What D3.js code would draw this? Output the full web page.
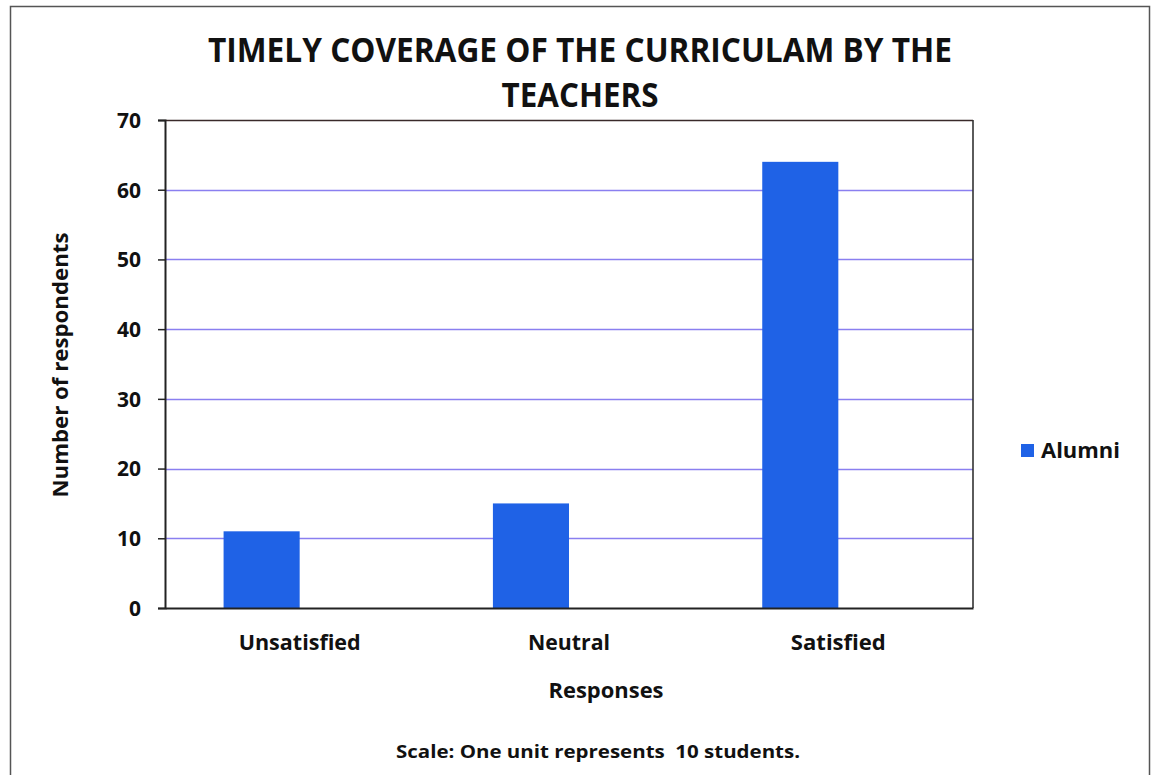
<!DOCTYPE html>
<html>
<head>
<meta charset="utf-8">
<script src="https://cdn.jsdelivr.net/npm/d3@7/dist/d3.min.js"></script>
<style>
  html, body { margin: 0; padding: 0; background: #fff; }
  svg { display: block; }
  text { font-family: "Open Sans", "Noto Sans", sans-serif; font-weight: 700; fill: #111; white-space: pre; }
</style>
</head>
<body>
<svg id="chart" width="1155" height="775"></svg>
<script>
const categories = ["Unsatisfied", "Neutral", "Satisfied"];
const seriesNames = ["Alumni", ""];
const alumniValues = [11, 15, 64];
const yTicks = [0, 10, 20, 30, 40, 50, 60, 70];
const titleLines = ["TIMELY COVERAGE OF THE CURRICULAM BY THE", "TEACHERS"];
const xAxisTitle = "Responses";
const yAxisTitle = "Number of respondents";
const footnote = "Scale: One unit represents  10 students.";

const svg = d3.select("#chart");
const plot = { left: 165, top: 120, right: 973, bottom: 608 };

// outer frame
svg.append("rect").attr("x", 10.5).attr("y", 6.5).attr("width", 1139).attr("height", 780)
  .attr("fill", "none").attr("stroke", "#555").attr("stroke-width", 1.5);

const x0 = d3.scaleBand().domain(categories).range([plot.left, plot.right])
  .paddingInner(0.435).paddingOuter(0.2175);
const x1 = d3.scaleBand().domain(seriesNames).range([0, x0.bandwidth()]);
const y = d3.scaleLinear().domain([0, 70]).range([plot.bottom, plot.top]);

// gridlines
svg.append("g").selectAll("line").data(yTicks.filter(t => t > 0 && t < 70)).join("line")
  .attr("x1", plot.left).attr("x2", plot.right)
  .attr("y1", d => Math.round(y(d)) + 0.5).attr("y2", d => Math.round(y(d)) + 0.5)
  .attr("stroke", "#8a7ff0").attr("stroke-width", 1.3);

// bars
svg.append("g").selectAll("rect").data(categories.map((c, i) => ({ c, v: alumniValues[i] }))).join("rect")
  .attr("x", d => x0(d.c) + x1("Alumni"))
  .attr("width", x1.bandwidth())
  .attr("y", d => y(d.v))
  .attr("height", d => y(0) - y(d.v))
  .attr("fill", "#1f62e6");

// plot border (top and right)
svg.append("line").attr("x1", plot.left).attr("x2", plot.right).attr("y1", plot.top + 0.5).attr("y2", plot.top + 0.5)
  .attr("stroke", "#3a2a2a").attr("stroke-width", 1.6);
svg.append("line").attr("x1", plot.right).attr("x2", plot.right).attr("y1", plot.top).attr("y2", plot.bottom)
  .attr("stroke", "#333").attr("stroke-width", 1.6);

// y axis
const yAxis = svg.append("g").attr("transform", `translate(${plot.left},0)`)
  .call(d3.axisLeft(y).tickValues(yTicks).tickSize(7).tickPadding(17));
yAxis.select(".domain").attr("stroke", "#222").attr("stroke-width", 2);
yAxis.selectAll(".tick line").attr("stroke", "#222").attr("stroke-width", 1.5);
yAxis.selectAll(".tick text").style("font-size", "21px").style("font-family", "Open Sans").style("font-weight", 700)
  .attr("fill", "#111").attr("dy", "0.35em");

// x axis
const xAxis = svg.append("g").attr("transform", `translate(0,${plot.bottom})`)
  .call(d3.axisBottom(x0).tickSize(0).tickPadding(26));
xAxis.select(".domain").attr("stroke", "#222").attr("stroke-width", 2);
xAxis.selectAll(".tick text").style("font-size", "22px").style("font-family", "Open Sans").style("font-weight", 700)
  .attr("fill", "#111")
  .attr("textLength", d => ({ "Unsatisfied": 122, "Neutral": 82, "Satisfied": 95 })[d])
  .attr("lengthAdjust", "spacingAndGlyphs");

// title
const tWidths = [744, 157];
svg.append("g").selectAll("text").data(titleLines).join("text")
  .attr("x", 580).attr("y", (d, i) => 62 + i * 45)
  .attr("text-anchor", "middle").style("font-size", "34px")
  .attr("textLength", (d, i) => tWidths[i]).attr("lengthAdjust", "spacingAndGlyphs")
  .text(d => d);

// axis titles
svg.append("text").attr("x", 606).attr("y", 698).attr("text-anchor", "middle")
  .style("font-size", "22px").attr("textLength", 115).attr("lengthAdjust", "spacingAndGlyphs").text(xAxisTitle);
svg.append("text").attr("transform", "translate(68,365) rotate(-90)").attr("text-anchor", "middle")
  .style("font-size", "22px").attr("textLength", 265).attr("lengthAdjust", "spacingAndGlyphs").text(yAxisTitle);

// footnote
svg.append("text").attr("x", 598).attr("y", 758).attr("text-anchor", "middle")
  .style("font-size", "18px").attr("textLength", 404).attr("lengthAdjust", "spacingAndGlyphs").text(footnote);

// legend
const lg = svg.append("g").attr("transform", "translate(1021,444)");
lg.append("rect").attr("width", 13).attr("height", 13).attr("fill", "#1f62e6");
lg.append("text").attr("x", 20).attr("y", 14).style("font-size", "22px")
  .attr("textLength", 79).attr("lengthAdjust", "spacingAndGlyphs").text(seriesNames[0]);
</script>
</body>
</html>
